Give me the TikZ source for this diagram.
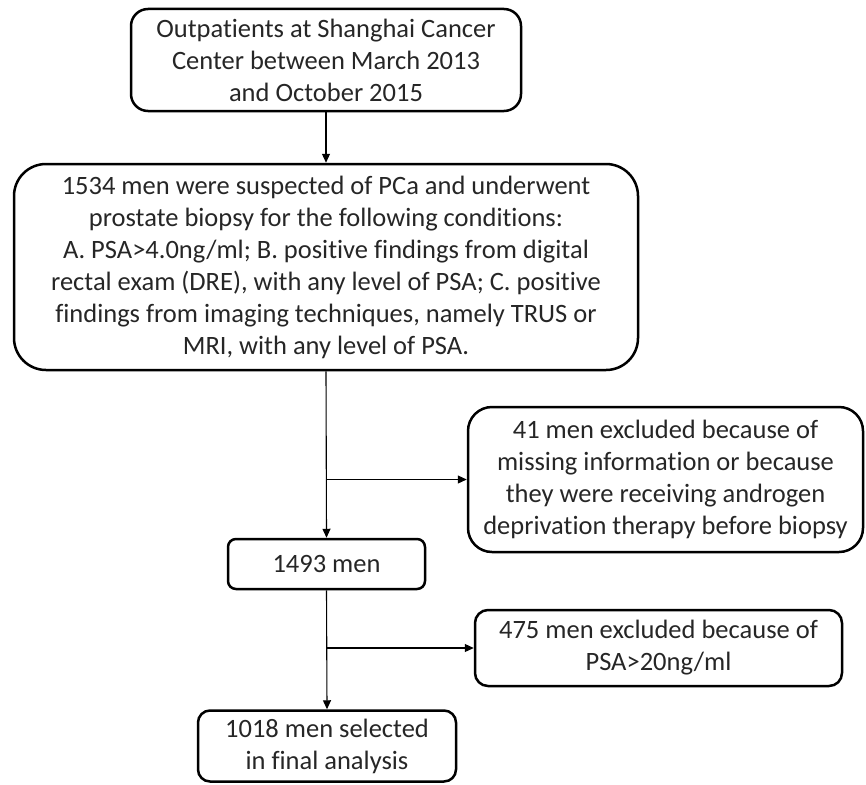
\documentclass[tikz,border=0pt]{standalone}
\usepackage{fontspec}
\setmainfont{Carlito}[Ligatures=NoCommon]
\usetikzlibrary{arrows.meta}
\begin{document}
\begin{tikzpicture}[x=1pt,y=-1pt,
  box/.style={draw, line width=2.5pt, align=center,
    font=\fontsize{26.5}{32}\selectfont, inner sep=0pt, text=black!85},
  arr/.style={line width=1.1pt, -{Triangle[length=9pt,width=8pt]}}]
\useasboundingbox (0,0) rectangle (866,784);
\node[box, rounded corners=17pt, minimum width=390pt, minimum height=102pt] (b1) at (326,60)
  {Outpatients at Shanghai Cancer\\Center between March 2013\\and October 2015};
\node[box, rounded corners=32pt, minimum width=624pt, minimum height=206pt] (b2) at (326,267)
  {1534 men were suspected of PCa and underwent\\prostate biopsy for the following conditions:\\A. PSA>4.0ng/ml; B. positive findings from digital\\rectal exam (DRE), with any level of PSA; C. positive\\findings from imaging techniques, namely TRUS or\\MRI, with any level of PSA.};
\node[box, rounded corners=24pt, minimum width=395pt, minimum height=145pt] (b3) at (665.5,479.5)
  {41 men excluded because of\\missing information or because\\they were receiving androgen\\deprivation therapy before biopsy};
\node[box, rounded corners=8pt, minimum width=197pt, minimum height=50pt] (b4) at (326.5,564)
  {1493 men};
\node[box, rounded corners=13pt, minimum width=367pt, minimum height=76pt] (b5) at (658.5,648)
  {475 men excluded because of\\PSA>20ng/ml};
\node[box, rounded corners=12pt, minimum width=258pt, minimum height=71pt] (b6) at (327,746)
  {1018 men selected\\in final analysis};
\draw[arr] (b1.south) -- (b2.north);
\draw[arr] (b2.south) -- (b4.north);
\draw[arr] (b2.south |- b3.west) -- (b3.west);
\draw[arr] (b4.south) -- (b6.north);
\draw[arr] (b4.south |- b5.west) -- (b5.west);
\end{tikzpicture}
\end{document}
